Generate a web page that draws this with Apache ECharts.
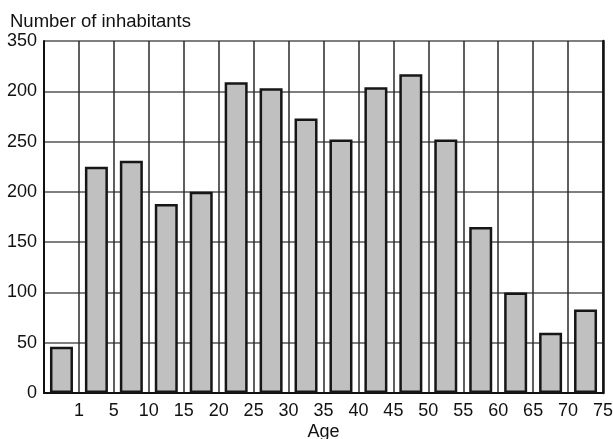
<!DOCTYPE html>
<html>
<head>
<meta charset="utf-8">
<script src="https://cdn.jsdelivr.net/npm/echarts@6/dist/echarts.min.js"></script>
<style>
html,body{margin:0;padding:0;background:#fff;}
#chart{width:613px;height:439px;}
</style>
</head>
<body>
<div id="chart"></div>
<script>
// Age groups (one bar per group)
const ageGroups = ['0-1','1-5','5-10','10-15','15-20','20-25','25-30','30-35','35-40','40-45','45-50','50-55','55-60','60-65','65-70','70-75'];
// Number of inhabitants per age group
const inhabitants = [46, 225, 231, 188, 200, 309, 303, 273, 252, 304, 317, 252, 165, 100, 60, 83];
// Tick labels on the x axis, placed at group boundaries
const xTickLabels = ['1','5','10','15','20','25','30','35','40','45','50','55','60','65','70','75'];
// Tick labels on the y axis (as printed in the original)
const yTickLabels = ['0','50','100','150','200','250','200','350'];

const FONT = 'Liberation Sans, Arial, sans-serif';
const chart = echarts.init(document.getElementById('chart'), null, {renderer:'canvas'});
chart.setOption({
  animation: false,
  backgroundColor: '#fff',
  title: {
    text: 'Number of inhabitants',
    left: 5, top: 7,
    textStyle: {fontFamily: FONT, fontSize: 18.5, fontWeight: 'normal', color: '#111'}
  },
  grid: {left: 44, right: 10, top: 41, bottom: 46, containLabel: false, outerBoundsMode: 'none'},
  xAxis: [{
    type: 'category',
    data: ageGroups,
    boundaryGap: true,
    axisLine: {show: true, lineStyle: {color: '#111', width: 2}},
    axisTick: {show: false},
    axisLabel: {show: false},
    splitLine: {show: true, interval: 0, lineStyle: {color: '#2a2a2a', width: 1.5}}
  }, {
    type: 'value',
    position: 'bottom',
    min: 0, max: 16, interval: 1,
    axisLine: {show: false},
    axisTick: {show: false},
    splitLine: {show: false},
    axisLabel: {
      show: true, margin: 9,
      fontFamily: FONT, fontSize: 18, color: '#111',
      formatter: v => v === 0 ? '' : xTickLabels[v - 1]
    },
    name: 'Age',
    nameLocation: 'middle',
    nameGap: 30,
    nameMoveOverlap: false,
    nameTextStyle: {fontFamily: FONT, fontSize: 18, color: '#111'}
  }],
  yAxis: [{
    type: 'value',
    min: 0, max: 350, interval: 50,
    axisLine: {show: true, lineStyle: {color: '#111', width: 2}},
    axisTick: {show: false},
    axisLabel: {
      fontFamily: FONT, fontSize: 18, color: '#111', margin: 7,
      formatter: v => yTickLabels[Math.round(v / 50)]
    },
    splitLine: {show: true, lineStyle: {color: '#555', width: 1.5}}
  }, {
    type: 'value',
    position: 'right',
    min: 0, max: 350, interval: 50,
    axisLine: {show: true, lineStyle: {color: '#111', width: 2.5}},
    axisTick: {show: false},
    axisLabel: {show: false},
    splitLine: {show: false}
  }],
  series: [{
    type: 'bar',
    xAxisIndex: 0,
    yAxisIndex: 0,
    data: inhabitants,
    barWidth: 23,
    itemStyle: {color: '#c0c0c0', borderColor: '#161616', borderWidth: 2.5}
  }]
});
</script>
</body>
</html>
